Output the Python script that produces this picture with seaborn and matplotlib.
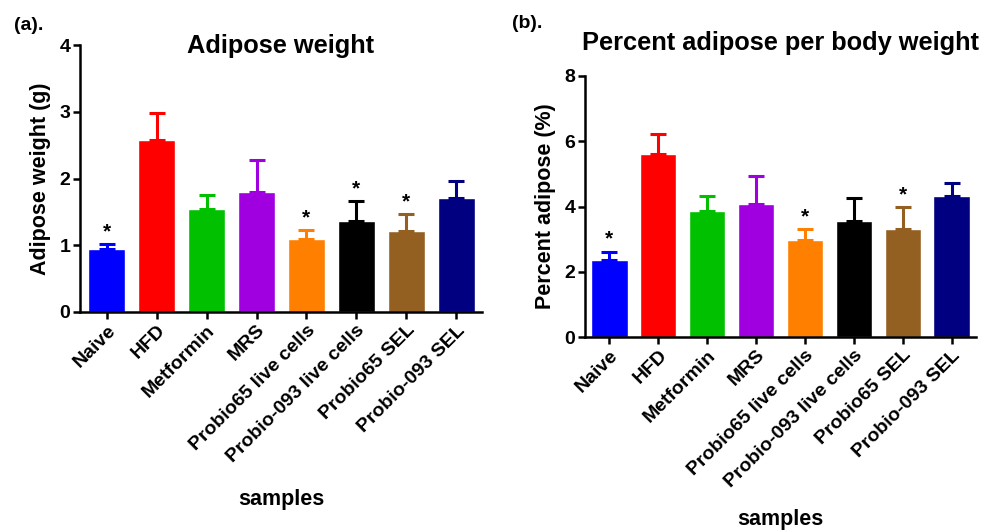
import matplotlib
matplotlib.use("Agg")
import matplotlib.pyplot as plt
import seaborn as sns
import numpy as np
import pandas as pd

categories = ["Naive", "HFD", "Metformin", "MRS", "Probio65 live cells",
              "Probio-093 live cells", "Probio65 SEL", "Probio-093 SEL"]
colors = ["#0000FF", "#FF0000", "#00C000", "#A000E0", "#FF8000",
          "#000000", "#936022", "#000080"]

weight_mean = [0.94, 2.57, 1.55, 1.80, 1.09, 1.36, 1.22, 1.71]
weight_err = [0.08, 0.41, 0.20, 0.48, 0.14, 0.30, 0.25, 0.25]
weight_star = [True, False, False, False, True, True, True, False]

pct_mean = [2.37, 5.62, 3.87, 4.08, 2.96, 3.56, 3.31, 4.33]
pct_err = [0.25, 0.59, 0.44, 0.86, 0.35, 0.71, 0.67, 0.40]
pct_star = [True, False, False, False, True, False, True, False]

sns.set_theme(style="white")
plt.rcParams['font.family'] = ['Liberation Sans', 'DejaVu Sans']
plt.rcParams['font.weight'] = 'bold'
for k in ['text.color', 'axes.labelcolor', 'xtick.color', 'ytick.color']:
    plt.rcParams[k] = 'black'

fig = plt.figure(figsize=(9.92, 5.30), dpi=100)

def panel(rect, means, errs, stars, ylim, yticks, ylabel, title, title_y, xlim,
          letter, letter_pos, xlabel_y):
    ax = fig.add_axes(rect)
    df = pd.DataFrame({"cat": categories, "val": means})
    sns.barplot(data=df, x="cat", y="val", hue="cat", palette=colors,
                legend=False, ax=ax, width=0.74, saturation=1, errorbar=None)
    for i, (m, e, c) in enumerate(zip(means, errs, colors)):
        ax.errorbar(i, m, yerr=[[0], [e]], fmt='none', ecolor=c,
                    elinewidth=2.2, capsize=5.5, capthick=2.2)
        if stars[i]:
            ax.annotate("*", (i, m + e), xytext=(0, 2), textcoords="offset points",
                        ha="center", va="bottom", fontsize=15, fontweight="bold")
    ax.set_ylim(*ylim)
    ax.set_xlim(*xlim)
    ax.set_yticks(yticks)
    ax.set_yticklabels([str(t) for t in yticks], fontsize=14, fontweight="bold")
    ax.set_xticks(range(len(categories)))
    ax.set_xticklabels(categories, rotation=45, ha="right", rotation_mode="anchor",
                       fontsize=14, fontweight="bold")
    ax.set_ylabel(ylabel, fontsize=15.5, fontweight="bold", labelpad=6)
    ax.set_xlabel("")
    cx = rect[0] + rect[2] / 2
    fig.text(cx, title_y, title, fontsize=18.3, fontweight="bold",
             ha="center", va="center")
    for s in ["top", "right"]:
        ax.spines[s].set_visible(False)
    for s in ["left", "bottom"]:
        ax.spines[s].set_linewidth(1.8)
        ax.spines[s].set_color("black")
    ax.tick_params(axis="both", direction="out", length=5, width=1.8,
                   colors="black", bottom=True, left=True, pad=2)
    fig.text(letter_pos[0], letter_pos[1], letter, fontsize=14, fontweight="bold",
             ha="left", va="center")
    fig.text(cx, xlabel_y, "samples", fontsize=15.5, fontweight="bold",
             ha="center", va="center")
    return ax

panel([80/992, 1 - 312/530, 402/992, 267/530], weight_mean, weight_err, weight_star,
      (0, 4), [0, 1, 2, 3, 4], "Adipose weight (g)", "Adipose weight", 1 - 46/530,
      (-0.54, 7.52), "(a).", (14/992, 1 - 25/530), 1 - 500/530)

panel([585/992, 1 - 337/530, 391/992, 261/530], pct_mean, pct_err, pct_star,
      (0, 8), [0, 2, 4, 6, 8], "Percent adipose (%)", "Percent adipose per body weight",
      1 - 43/530, (-0.5, 7.5), "(b).", (512/992, 1 - 24/530), 1 - 519/530)

fig.savefig("out.png", dpi=100)
